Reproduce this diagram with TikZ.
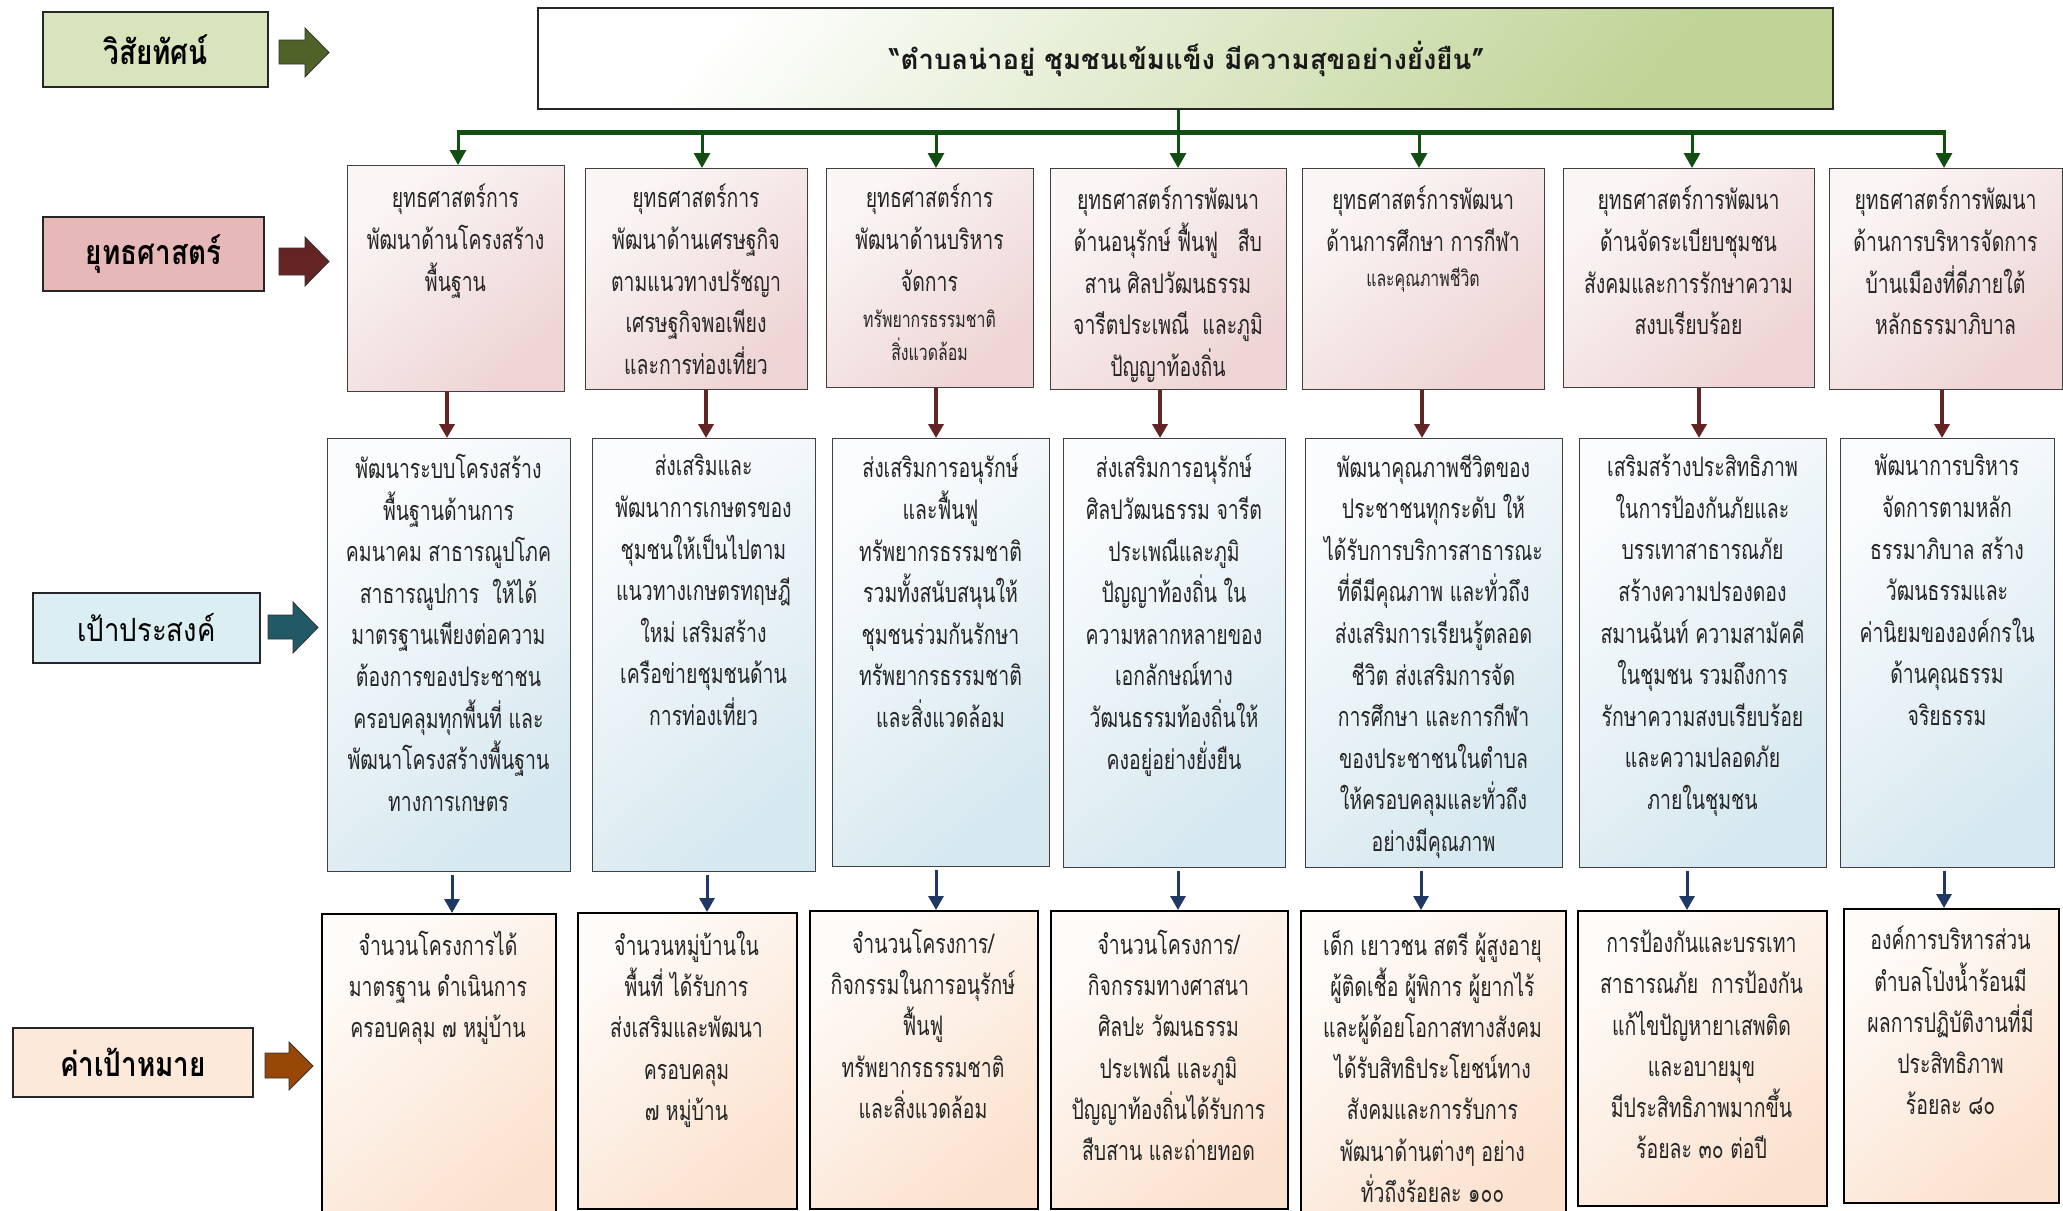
\documentclass[tikz,border=0pt]{standalone}
\usepackage{fontspec}
\usetikzlibrary{arrows.meta,calc}
\newfontfamily\thc[Script=Thai,FakeStretch=0.72]{Loma}
\newfontfamily\thl[Script=Thai,FakeStretch=0.82]{Loma}
\newfontfamily\thm[Script=Thai,FakeStretch=0.86]{Loma}
\newfontfamily\thv[Script=Thai]{Loma}
\definecolor{visL}{HTML}{D8E4BC}
\definecolor{visA}{HTML}{4F6228}
\definecolor{strL}{HTML}{E6B9B8}
\definecolor{strA}{HTML}{632423}
\definecolor{objL}{HTML}{DBEEF3}
\definecolor{objA}{HTML}{215967}
\definecolor{tgtL}{HTML}{FDE9D9}
\definecolor{tgtA}{HTML}{974706}
\definecolor{visG}{HTML}{BFD496}
\definecolor{gline}{HTML}{124D12}
\definecolor{bline}{HTML}{1F3864}
\definecolor{sTop}{HTML}{FBF6F6}
\definecolor{sBot}{HTML}{EED4D4}
\definecolor{oTop}{HTML}{FAFCFD}
\definecolor{oBot}{HTML}{D6E8F0}
\definecolor{tTop}{HTML}{FEFBF8}
\definecolor{tBot}{HTML}{FBE2CF}
\begin{document}
\begin{tikzpicture}[x=1pt,y=-1pt,
  lab/.style={draw=black!85, line width=1.8pt, inner sep=0, font=\thl\bfseries\fontsize{34}{40}\selectfont},
  blockarrow/.style={draw=black!80, line width=0.8pt},
  box/.style={draw=black!75, line width=1.1pt, inner sep=0, anchor=north west},
  sbox/.style={box, top color=sTop, bottom color=sBot, shading angle=40},
  obox/.style={box, top color=oTop, bottom color=oBot, shading angle=40},
  tbox/.style={box, draw=black, line width=2.4pt, top color=tTop, bottom color=tBot, shading angle=40},
  vbox/.style={draw=black!85, line width=2pt, inner sep=0, anchor=north west, top color=white, bottom color=visG, shading angle=50},
  txt/.style={align=center, anchor=north, inner sep=0, text=black!85, font=\thc\fontsize{27}{41.6}\selectfont, execute at begin node={\rule{0pt}{30pt}}},
  stxt/.style={align=center, anchor=north, inner sep=0, text=black!85, font=\thc\fontsize{22}{33}\selectfont, execute at begin node={\rule{0pt}{24pt}}},
  ttxt/.style={txt, font=\thc\fontsize{27}{41.2}\selectfont},
  garrow/.style={gline, line width=3pt, -{Triangle[width=16pt,length=15pt]}},
  barrow/.style={strA, line width=3.5pt, -{Triangle[width=15pt,length=14pt]}},
  narrow/.style={bline, line width=3pt, shorten <=3pt, -{Triangle[width=15pt,length=14pt]}}
]
\useasboundingbox (0,0) rectangle (2063,1210);
\fill[white] (0,0) rectangle (2063,1210);

% ---------- left labels ----------
\node[lab, fill=visL, minimum width=225pt, minimum height=75pt] (L1) at (155.5,49.5) {วิสัยทัศน์};
\node[lab, fill=strL, minimum width=221pt, minimum height=74pt] (L2) at (153.5,254) {ยุทธศาสตร์};
\node[lab, fill=objL, minimum width=227pt, minimum height=70pt, font=\thm\fontsize{32}{40}\selectfont] (L3) at (146.5,628) {เป้าประสงค์};
\node[lab, fill=tgtL, minimum width=240pt, minimum height=69pt] (L4) at (133,1062.5) {ค่าเป้าหมาย};

% block arrows
\filldraw[blockarrow, fill=visA] (279,40) -- (305,40) -- (305,28) -- (329,52.5) -- (305,77) -- (305,64) -- (279,64) -- cycle;
\filldraw[blockarrow, fill=strA] (279,248) -- (305,248) -- (305,237) -- (329,261.5) -- (305,286) -- (305,275) -- (279,275) -- cycle;
\filldraw[blockarrow, fill=objA] (268,615) -- (293,615) -- (293,602) -- (318,627.5) -- (293,653) -- (293,639) -- (268,639) -- cycle;
\filldraw[blockarrow, fill=tgtA] (265,1053) -- (289,1053) -- (289,1042) -- (313,1066) -- (289,1090) -- (289,1078) -- (265,1078) -- cycle;

% ---------- vision ----------
\node[vbox, minimum width=1295pt, minimum height=101pt] (V) at (537,7) {};
\node[anchor=base, inner sep=0, font=\thv\bfseries\fontsize{27.5}{34}\selectfont, text=black!90] (Vt) at (1187,69) {“ตำบลน่าอยู่ ชุมชนเข้มแข็ง มีความสุขอย่างยั่งยืน”};

% ---------- strategy boxes ----------
\node[sbox, minimum width=217pt, minimum height=226pt] (S1) at (347,165) {};
\node[sbox, minimum width=222pt, minimum height=221pt] (S2) at (585,168) {};
\node[sbox, minimum width=207pt, minimum height=219pt] (S3) at (826,168) {};
\node[sbox, minimum width=236pt, minimum height=221pt] (S4) at (1050,168) {};
\node[sbox, minimum width=242pt, minimum height=221pt] (S5) at (1302,168) {};
\node[sbox, minimum width=251pt, minimum height=219pt] (S6) at (1563,168) {};
\node[sbox, minimum width=233pt, minimum height=221pt] (S7) at (1829,168) {};

\node[txt] (S1t) at (455.5,184) {ยุทธศาสตร์การ\\พัฒนาด้านโครงสร้าง\\พื้นฐาน};
\node[txt] (S2t) at (696,184) {ยุทธศาสตร์การ\\พัฒนาด้านเศรษฐกิจ\\ตามแนวทางปรัชญา\\เศรษฐกิจพอเพียง\\และการท่องเที่ยว};
\node[txt] (S3t) at (929.5,184) {ยุทธศาสตร์การ\\พัฒนาด้านบริหาร\\จัดการ};
\node[stxt] (S3s) at (929.5,310) {ทรัพยากรธรรมชาติ\\สิ่งแวดล้อม};
\node[txt] (S4t) at (1168,186) {ยุทธศาสตร์การพัฒนา\\ด้านอนุรักษ์ ฟื้นฟู \ \ สืบ\\สาน ศิลปวัฒนธรรม\\จารีตประเพณี \ และภูมิ\\ปัญญาท้องถิ่น};
\node[txt] (S5t) at (1423,186) {ยุทธศาสตร์การพัฒนา\\ด้านการศึกษา การกีฬา};
\node[stxt] (S5s) at (1423,262) {และคุณภาพชีวิต};
\node[txt] (S6t) at (1688.5,186) {ยุทธศาสตร์การพัฒนา\\ด้านจัดระเบียบชุมชน\\สังคมและการรักษาความ\\สงบเรียบร้อย};
\node[txt] (S7t) at (1945.5,186) {ยุทธศาสตร์การพัฒนา\\ด้านการบริหารจัดการ\\บ้านเมืองที่ดีภายใต้\\หลักธรรมาภิบาล};

% ---------- objective boxes ----------
\node[obox, minimum width=243pt, minimum height=433pt] (O1) at (327,438) {};
\node[obox, minimum width=223pt, minimum height=433pt] (O2) at (592,438) {};
\node[obox, minimum width=217pt, minimum height=428pt] (O3) at (832,438) {};
\node[obox, minimum width=222pt, minimum height=429pt] (O4) at (1063,438) {};
\node[obox, minimum width=257pt, minimum height=429pt] (O5) at (1305,438) {};
\node[obox, minimum width=247pt, minimum height=429pt] (O6) at (1579,438) {};
\node[obox, minimum width=214pt, minimum height=429pt] (O7) at (1840,438) {};

\node[txt] (O1t) at (448.5,454) {พัฒนาระบบโครงสร้าง\\พื้นฐานด้านการ\\คมนาคม สาธารณูปโภค\\สาธารณูปการ \ ให้ได้\\มาตรฐานเพียงต่อความ\\ต้องการของประชาชน\\ครอบคลุมทุกพื้นที่ และ\\พัฒนาโครงสร้างพื้นฐาน\\ทางการเกษตร};
\node[txt] (O2t) at (703.5,454) {ส่งเสริมและ\\พัฒนาการเกษตรของ\\ชุมชนให้เป็นไปตาม\\แนวทางเกษตรทฤษฎี\\ใหม่ เสริมสร้าง\\เครือข่ายชุมชนด้าน\\การท่องเที่ยว};
\node[txt] (O3t) at (940.5,454) {ส่งเสริมการอนุรักษ์\\และฟื้นฟู\\ทรัพยากรธรรมชาติ\\รวมทั้งสนับสนุนให้\\ชุมชนร่วมกันรักษา\\ทรัพยากรธรรมชาติ\\และสิ่งแวดล้อม};
\node[txt] (O4t) at (1174,454) {ส่งเสริมการอนุรักษ์\\ศิลปวัฒนธรรม จารีต\\ประเพณีและภูมิ\\ปัญญาท้องถิ่น ใน\\ความหลากหลายของ\\เอกลักษณ์ทาง\\วัฒนธรรมท้องถิ่นให้\\คงอยู่อย่างยั่งยืน};
\node[txt] (O5t) at (1433.5,454) {พัฒนาคุณภาพชีวิตของ\\ประชาชนทุกระดับ ให้\\ได้รับการบริการสาธารณะ\\ที่ดีมีคุณภาพ และทั่วถึง\\ส่งเสริมการเรียนรู้ตลอด\\ชีวิต ส่งเสริมการจัด\\การศึกษา และการกีฬา\\ของประชาชนในตำบล\\ให้ครอบคลุมและทั่วถึง\\อย่างมีคุณภาพ};
\node[txt] (O6t) at (1702.5,454) {เสริมสร้างประสิทธิภาพ\\ในการป้องกันภัยและ\\บรรเทาสาธารณภัย\\สร้างความปรองดอง\\สมานฉันท์ ความสามัคคี\\ในชุมชน รวมถึงการ\\รักษาความสงบเรียบร้อย\\และความปลอดภัย\\ภายในชุมชน};
\node[txt] (O7t) at (1947,454) {พัฒนาการบริหาร\\จัดการตามหลัก\\ธรรมาภิบาล สร้าง\\วัฒนธรรมและ\\ค่านิยมขององค์กรใน\\ด้านคุณธรรม\\จริยธรรม};

% ---------- target boxes ----------
\node[tbox, minimum width=234pt, minimum height=305pt] (T1) at (321,913) {};
\node[tbox, minimum width=219pt, minimum height=296pt] (T2) at (577,912) {};
\node[tbox, minimum width=228pt, minimum height=298pt] (T3) at (809,910) {};
\node[tbox, minimum width=237pt, minimum height=298pt] (T4) at (1050,910) {};
\node[tbox, minimum width=265pt, minimum height=308pt] (T5) at (1300,910) {};
\node[tbox, minimum width=249pt, minimum height=295pt] (T6) at (1577,910) {};
\node[tbox, minimum width=215pt, minimum height=294pt] (T7) at (1843,908) {};

\node[ttxt] (T1t) at (438,931) {จำนวนโครงการได้\\มาตรฐาน ดำเนินการ\\ครอบคลุม ๗ หมู่บ้าน};
\node[ttxt] (T2t) at (686.5,931) {จำนวนหมู่บ้านใน\\พื้นที่ ได้รับการ\\ส่งเสริมและพัฒนา\\ครอบคลุม\\๗ หมู่บ้าน};
\node[ttxt] (T3t) at (923,929) {จำนวนโครงการ/\\กิจกรรมในการอนุรักษ์\\ฟื้นฟู\\ทรัพยากรธรรมชาติ\\และสิ่งแวดล้อม};
\node[ttxt] (T4t) at (1168.5,930) {จำนวนโครงการ/\\กิจกรรมทางศาสนา\\ศิลปะ วัฒนธรรม\\ประเพณี และภูมิ\\ปัญญาท้องถิ่นได้รับการ\\สืบสาน และถ่ายทอด};
\node[ttxt] (T5t) at (1432.5,930) {เด็ก เยาวชน สตรี ผู้สูงอายุ\\ผู้ติดเชื้อ ผู้พิการ ผู้ยากไร้\\และผู้ด้อยโอกาสทางสังคม\\ได้รับสิทธิประโยชน์ทาง\\สังคมและการรับการ\\พัฒนาด้านต่างๆ อย่าง\\ทั่วถึงร้อยละ ๑๐๐};
\node[ttxt] (T6t) at (1701.5,930) {การป้องกันและบรรเทา\\สาธารณภัย \ การป้องกัน\\แก้ไขปัญหายาเสพติด\\และอบายมุข\\มีประสิทธิภาพมากขึ้น\\ร้อยละ ๓๐ ต่อปี};
\node[ttxt] (T7t) at (1950.5,926) {องค์การบริหารส่วน\\ตำบลโป่งน้ำร้อนมี\\ผลการปฏิบัติงานที่มี\\ประสิทธิภาพ\\ร้อยละ ๘๐};

% ---------- connectors: vision -> strategies ----------
\coordinate (vb) at (1178,132);
\coordinate (b1) at (458,132);
\coordinate (b2) at (702,132);
\coordinate (b3) at (936,132);
\coordinate (b4) at (1178,132);
\coordinate (b5) at (1419,132);
\coordinate (b6) at (1692,132);
\coordinate (b7) at (1944,132);
\draw[gline, line width=3pt] (vb |- V.south) -- (vb);
\draw[gline, line width=5pt] ([xshift=-1.5pt]b1) -- ([xshift=1.5pt]b7);
\draw[garrow] (b1) -- (b1 |- S1.north);
\draw[garrow] (b2) -- (b2 |- S2.north);
\draw[garrow] (b3) -- (b3 |- S3.north);
\draw[garrow] (b4) -- (b4 |- S4.north);
\draw[garrow] (b5) -- (b5 |- S5.north);
\draw[garrow] (b6) -- (b6 |- S6.north);
\draw[garrow] (b7) -- (b7 |- S7.north);

% ---------- strategies -> objectives ----------
\coordinate (c1) at (447,0);
\coordinate (c2) at (706,0);
\coordinate (c3) at (936,0);
\coordinate (c4) at (1160,0);
\coordinate (c5) at (1422,0);
\coordinate (c6) at (1699,0);
\coordinate (c7) at (1942,0);
\draw[barrow] (c1 |- S1.south) -- (c1 |- O1.north);
\draw[barrow] (c2 |- S2.south) -- (c2 |- O2.north);
\draw[barrow] (c3 |- S3.south) -- (c3 |- O3.north);
\draw[barrow] (c4 |- S4.south) -- (c4 |- O4.north);
\draw[barrow] (c5 |- S5.south) -- (c5 |- O5.north);
\draw[barrow] (c6 |- S6.south) -- (c6 |- O6.north);
\draw[barrow] (c7 |- S7.south) -- (c7 |- O7.north);

% ---------- objectives -> targets ----------
\coordinate (d1) at (452,0);
\coordinate (d2) at (707,0);
\coordinate (d3) at (936,0);
\coordinate (d4) at (1178,0);
\coordinate (d5) at (1421,0);
\coordinate (d6) at (1687,0);
\coordinate (d7) at (1944,0);
\draw[narrow] (d1 |- O1.south) -- (d1 |- T1.north);
\draw[narrow] (d2 |- O2.south) -- (d2 |- T2.north);
\draw[narrow] (d3 |- O3.south) -- (d3 |- T3.north);
\draw[narrow] (d4 |- O4.south) -- (d4 |- T4.north);
\draw[narrow] (d5 |- O5.south) -- (d5 |- T5.north);
\draw[narrow] (d6 |- O6.south) -- (d6 |- T6.north);
\draw[narrow] (d7 |- O7.south) -- (d7 |- T7.north);
\end{tikzpicture}
\end{document}
